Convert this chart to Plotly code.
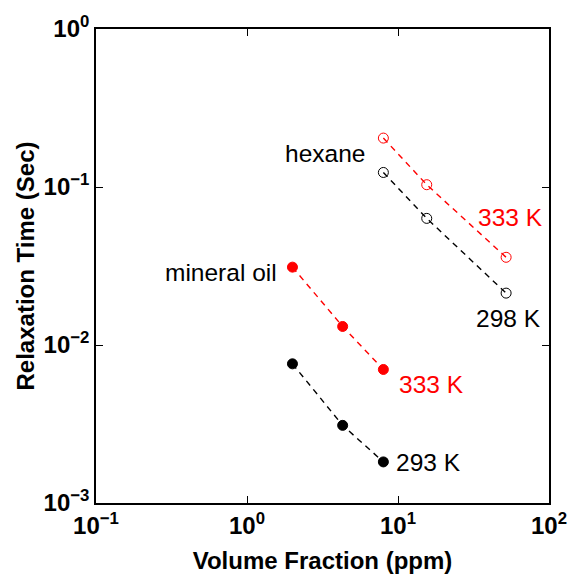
import math
import plotly.graph_objects as go

hex_x = [8.0, 15.5, 52.0]
hex_333 = [0.204, 0.1034, 0.0359]
hex_298 = [0.1236, 0.0633, 0.0213]
oil_x = [2.0, 4.3, 8.0]
oil_333 = [0.0311, 0.0131, 0.0070]
oil_293 = [0.0076, 0.0031, 0.00182]

tick_vals_x = [0.1, 1, 10, 100]
tick_text_x = ["10<sup>−1</sup>", "10<sup>0</sup>", "10<sup>1</sup>", "10<sup>2</sup>"]
tick_vals_y = [0.001, 0.01, 0.1, 1]
tick_text_y = ["10<sup>−3</sup>", "10<sup>−2</sup>", "10<sup>−1</sup>", "10<sup>0</sup>"]

RED = "#ff0000"
BLK = "#000000"
FONT = "Liberation Sans, Arial, sans-serif"

fig = go.Figure()

def add(x, y, color, filled):
    fig.add_trace(go.Scatter(
        x=x, y=y, mode="lines+markers",
        line=dict(color=color, width=1.4, dash="6px,5px"),
        marker=dict(symbol="circle" if filled else "circle-open",
                    size=10, color=color,
                    line=dict(color=color, width=1)),
        showlegend=False))

add(hex_x, hex_333, RED, False)
add(hex_x, hex_298, BLK, False)
add(oil_x, oil_333, RED, True)
add(oil_x, oil_293, BLK, True)

annots = [
    dict(x=hex_x[0], y=hex_298[0], text="hexane", xshift=-16, yshift=19, xanchor="right", color=BLK),
    dict(x=hex_x[-1], y=hex_333[-1], text="333 K", xshift=-30, yshift=40, xanchor="left", color=RED),
    dict(x=hex_x[-1], y=hex_298[-1], text="298 K", xshift=-32, yshift=-25, xanchor="left", color=BLK),
    dict(x=oil_x[0], y=oil_333[0], text="mineral oil", xshift=-13, yshift=-5, xanchor="right", color=BLK),
    dict(x=oil_x[-1], y=oil_333[-1], text="333 K", xshift=14, yshift=-15, xanchor="left", color=RED),
    dict(x=oil_x[-1], y=oil_293[-1], text="293 K", xshift=11, yshift=-1, xanchor="left", color=BLK),
]
for a in annots:
    fig.add_annotation(x=math.log10(a["x"]), y=math.log10(a["y"]), xref="x", yref="y",
                       text=a["text"], showarrow=False,
                       xshift=a["xshift"], yshift=a["yshift"],
                       xanchor=a["xanchor"], yanchor="middle",
                       font=dict(family=FONT, size=24.5, color=a["color"]))

axis_common = dict(
    type="log", showgrid=False, zeroline=False, showline=True, linecolor="black",
    linewidth=1.6, mirror="ticks", ticks="inside", ticklen=7, tickcolor="black",
    tickwidth=1.4,
    tickfont=dict(family=FONT, size=24, color="black", weight="bold"),
)

fig.update_xaxes(range=[-1, 2], tickvals=tick_vals_x, ticktext=tick_text_x,
                 automargin=False,
                 title=dict(text="<b>Volume Fraction (ppm)</b>",
                            font=dict(family=FONT, size=24, color="black")),
                 **axis_common)
fig.update_yaxes(range=[-3, 0], tickvals=tick_vals_y, ticktext=tick_text_y,
                 automargin=True,
                 title=dict(text="<b>Relaxation Time (Sec)</b>", standoff=2,
                            font=dict(family=FONT, size=24, color="black")),
                 **axis_common)

fig.update_layout(
    width=569, height=579,
    margin=dict(l=96, r=20, t=29, b=76),
    plot_bgcolor="white", paper_bgcolor="white",
    font=dict(family=FONT),
)

fig.write_html("out.html")
